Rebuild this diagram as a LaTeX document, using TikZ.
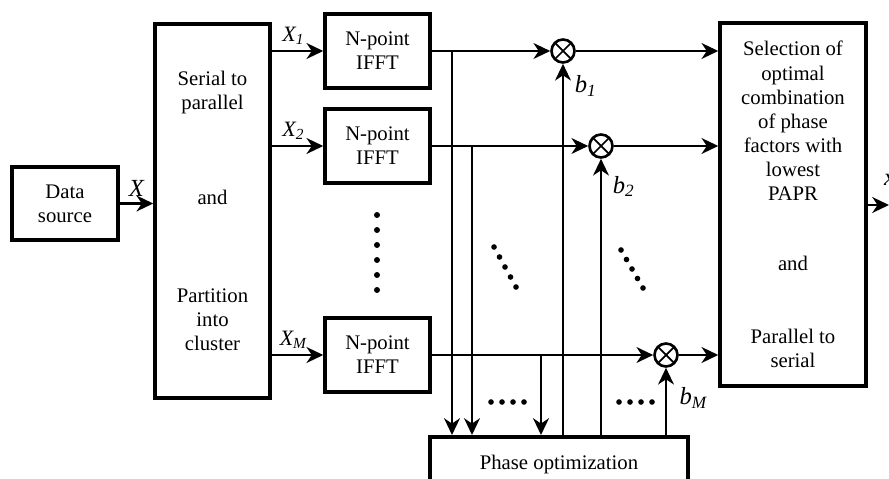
\documentclass[tikz,border=0pt]{standalone}
\usepackage{fontspec}
\setmainfont{Liberation Serif}
\usetikzlibrary{arrows.meta,positioning,calc}
\tikzset{
  slblock/.style={
    draw=black, fill=white, line width=2pt,
    align=center, inner sep=2pt, font=\fontsize{11.8}{13.7}\selectfont
  },
  slmix/.style={
    circle, draw=black, fill=white, line width=1.5pt,
    minimum size=0.46cm, inner sep=0pt,
    path picture={\draw[line width=1pt]
      (path picture bounding box.north west) -- (path picture bounding box.south east)
      (path picture bounding box.north east) -- (path picture bounding box.south west);}
  },
  sledge/.style={-{Stealth[length=9.5pt,width=9pt,inset=3pt]},line width=1.5pt},
  sllabel/.style={font=\fontsize{14}{16}\selectfont\itshape,inner sep=1pt},
  slsub/.style={font=\fontsize{12.5}{14}\selectfont\itshape,inner sep=1pt},
  sldot/.style={fill=black}
}

\begin{document}
\begin{tikzpicture}[x=0.02cm,y=-0.02cm]
\useasboundingbox (0,0) rectangle (889,479);
% blocks
\node[slblock,minimum width=2.12cm,minimum height=1.46cm] (src) at (65,203.5) {Data\\source};
\node[slblock,minimum width=2.3cm,minimum height=7.48cm] (sp) at (212.5,211)
  {Serial to\\parallel\\[40pt]and\\[42pt]Partition\\into\\cluster};
\node[slblock,minimum width=2.1cm,minimum height=1.48cm] (f1) at (377.5,51) {N-point\\IFFT};
\node[slblock,minimum width=2.1cm,minimum height=1.48cm] (f2) at (377.5,146) {N-point\\IFFT};
\node[slblock,minimum width=2.1cm,minimum height=1.48cm] (fm) at (377.5,355) {N-point\\IFFT};
\node[slmix] (m1) at (563,51) {};
\node[slmix] (m2) at (601,146) {};
\node[slmix] (mm) at (666,355) {};
\node[slblock,minimum width=2.92cm,minimum height=7.26cm] (sel) at (793,204.5)
  {Selection of\\optimal\\combination\\of phase\\factors with\\lowest\\PAPR\\[26pt]and\\[28pt]Parallel to\\serial};
\node[slblock,minimum width=5.16cm,minimum height=1.1cm,anchor=north] (po) at (559,435) {Phase optimization};

% branch points and output end
\coordinate (k1) at (452,51);
\coordinate (k2) at (472,146);
\coordinate (km) at (541,355);
\coordinate (out) at (889,205);

% connectors
\draw[sledge] (src.east) -- node[sllabel,above=2pt] {X} (sp.west |- src.east);
\draw[sledge] (sp.east |- f1) -- node[slsub,above=2pt,pos=.42] {X\textsubscript{1}} (f1.west);
\draw[sledge] (sp.east |- f2) -- node[slsub,above=2pt,pos=.42] {X\textsubscript{2}} (f2.west);
\draw[sledge] (sp.east |- fm) -- node[slsub,above=2pt,pos=.42] {X\textsubscript{M}} (fm.west);
\draw[sledge] (f1.east) -- (m1.west);
\draw[sledge] (f2.east) -- (m2.west);
\draw[sledge] (fm.east) -- (mm.west);
\draw[sledge] (m1.east) -- (sel.west |- m1);
\draw[sledge] (m2.east) -- (sel.west |- m2);
\draw[sledge] (mm.east) -- (sel.west |- mm);
\draw[sledge] (k1) -- (k1 |- po.north);
\draw[sledge] (k2) -- (k2 |- po.north);
\draw[sledge] (km) -- (km |- po.north);
\draw[sledge] (m1 |- po.north) -- node[sllabel,right=5pt,pos=.94] {b\textsubscript{1}} (m1.south);
\draw[sledge] (m2 |- po.north) -- node[sllabel,right=5pt,pos=.90] {b\textsubscript{2}} (m2.south);
\draw[sledge] (mm |- po.north) -- node[sllabel,right=6pt,pos=.55] {b\textsubscript{M}} (mm.south);
\draw[sledge] (sel.east |- out) -- (out);
\node[sllabel,anchor=west] (lx) at (882,180) {x};

% dots
\foreach \k in {0,...,5} \fill[sldot] (377,{215+15*\k}) circle (1.7pt);
\foreach \k in {0,...,4} \fill[sldot] ({494+5.5*\k},{247+10*\k}) circle (1.6pt);
\foreach \k in {0,...,4} \fill[sldot] ({621+5.5*\k},{250+9.5*\k}) circle (1.6pt);
\foreach \k in {0,...,3} \fill[sldot] ({491+11*\k},402) circle (1.6pt);
\foreach \k in {0,...,3} \fill[sldot] ({619+11*\k},402) circle (1.6pt);
\end{tikzpicture}
\end{document}
